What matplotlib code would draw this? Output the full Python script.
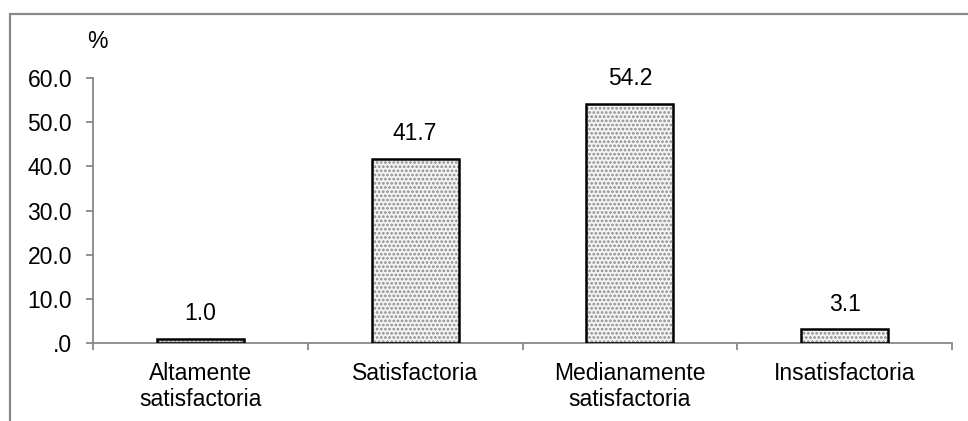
import matplotlib.pyplot as plt
from matplotlib.patches import Rectangle

plt.rcParams['font.family'] = ['Liberation Sans', 'DejaVu Sans']
plt.rcParams['hatch.linewidth'] = 1.3

categorias = ['Altamente\nsatisfactoria', 'Satisfactoria', 'Medianamente\nsatisfactoria', 'Insatisfactoria']
porcentajes = [1.0, 41.7, 54.2, 3.1]
y_ticks = [0, 10, 20, 30, 40, 50, 60]
y_labels = ['.0', '10.0', '20.0', '30.0', '40.0', '50.0', '60.0']

W, H = 968, 421
FS = 16.5
fig = plt.figure(figsize=(W / 100, H / 100), dpi=100)
ax = fig.add_axes([93 / W, 1 - 343 / H, (952 - 93) / W, (343 - 78) / H])

gris = '#888888'
x = list(range(len(categorias)))
# puntos grises de relleno y borde negro por separado
ax.bar(x, porcentajes, width=0.405, color='#f4f4f4', edgecolor='#8c8c8c',
       hatch='....', linewidth=0, zorder=2)
ax.bar(x, porcentajes, width=0.405, fill=False, edgecolor='black',
       linewidth=1.8, zorder=3)

for xi, v in zip(x, porcentajes):
    ax.annotate(f'{v:.1f}', (xi, v), xytext=(0, 18), textcoords='offset points',
                ha='center', va='center', fontsize=FS)

ax.set_xlim(-0.5, len(categorias) - 0.5)
ax.set_ylim(0, 60)
ax.set_yticks(y_ticks)
ax.set_yticklabels(y_labels, fontsize=FS)
ax.set_xticks(x)
ax.set_xticklabels(categorias, fontsize=FS, linespacing=1.15)
ax.tick_params(axis='x', length=0, pad=14)
ax.tick_params(axis='y', length=5, width=1.3, color=gris, pad=10)

# marcas entre categorias
ax.set_xticks([i - 0.5 for i in range(len(categorias) + 1)], minor=True)
ax.tick_params(axis='x', which='minor', length=5, width=1.3, color=gris)

for s in ['top', 'right']:
    ax.spines[s].set_visible(False)
for s in ['left', 'bottom']:
    ax.spines[s].set_color(gris)
    ax.spines[s].set_linewidth(1.3)

fig.text(97.5 / W, 1 - 42 / H, '%', fontsize=FS, ha='center', va='center')

# marco del area del grafico
fig.patches.append(Rectangle((9.5 / W, -0.1), 1.2, 1 - 13.5 / H + 0.1,
                             transform=fig.transFigure, fill=False,
                             edgecolor=gris, linewidth=1.6))

fig.savefig('out.png', dpi=100)
